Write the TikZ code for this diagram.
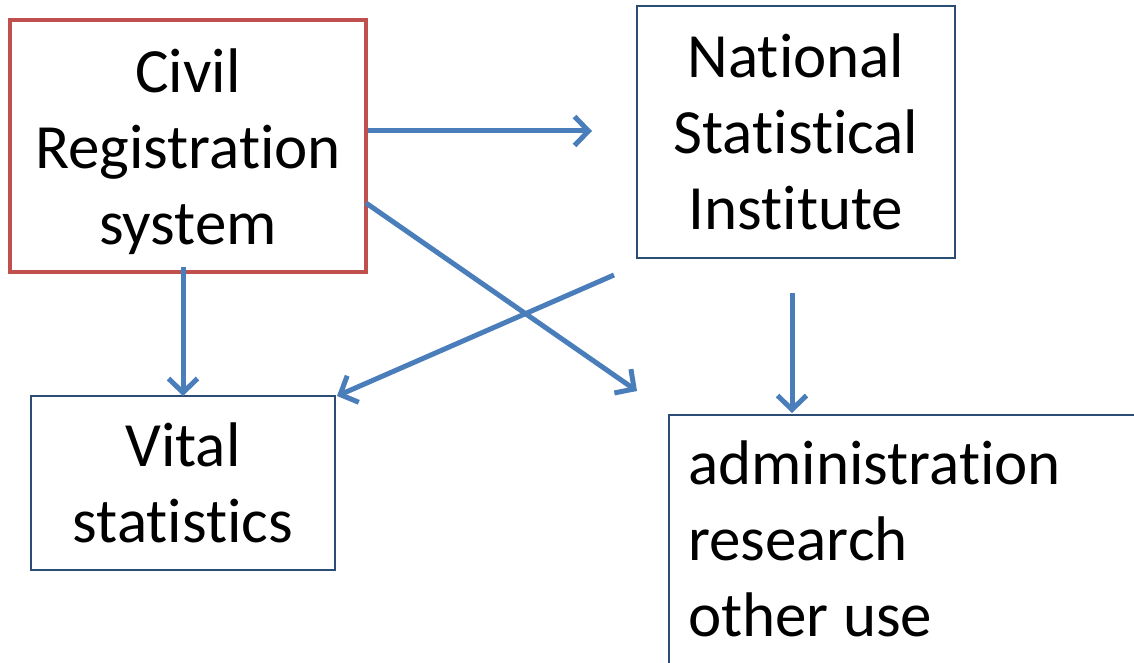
\documentclass[tikz,border=0pt]{standalone}
\usepackage{fontspec}
\setmainfont{Carlito}[Ligatures=NoCommon]
\usetikzlibrary{arrows.meta}
\definecolor{crsred}{HTML}{C0504D}
\definecolor{arrowblue}{HTML}{4A7EBB}
\definecolor{boxnavy}{HTML}{2C4D75}
\begin{document}
\begin{tikzpicture}[x=1pt,y=-1pt,
  txt/.style={font=\fontsize{63}{76}\selectfont, align=center, inner sep=0pt},
  redbox/.style={txt, draw=crsred, line width=4pt},
  navybox/.style={txt, draw=boxnavy, line width=1.6pt},
  flow/.style={draw=arrowblue, line width=5pt, -{Straight Barb[length=14pt,width=29pt,line width=5pt]}}]
\useasboundingbox (0,0) rectangle (1134,663);
\node[redbox, minimum width=356pt, minimum height=252pt] (civ) at (188,146) {\rule{0pt}{56pt}Civil\\Registration\\system};
\node[navybox, minimum width=318pt, minimum height=252pt] (nsi) at (796,132) {National\\Statistical\\Institute};
\node[navybox, minimum width=304pt, minimum height=174pt] (vit) at (183,483) {Vital\\statistics};
\node[navybox, anchor=north west, minimum width=520pt, minimum height=300pt] (use) at (668,414) {};
\node[txt, align=left, anchor=north west] (usetxt) at (688,441) {administration\\research\\other use};
% connector end points
\coordinate (a1s) at (368,131); \coordinate (a1e) at (592,131);
\coordinate (a2s) at (366,203); \coordinate (a2e) at (637,391);
\coordinate (a3s) at (614,275); \coordinate (a3e) at (337,396);
\coordinate (a4s) at (183,267); \coordinate (a4e) at (183,396);
\coordinate (a5s) at (792,293); \coordinate (a5e) at (792,413);
\draw[flow] (a1s) -- (a1e);
\draw[flow] (a2s) -- (a2e);
\draw[flow] (a3s) -- (a3e);
\draw[flow] (a4s) -- (a4e);
\draw[flow] (a5s) -- (a5e);
\end{tikzpicture}
\end{document}
